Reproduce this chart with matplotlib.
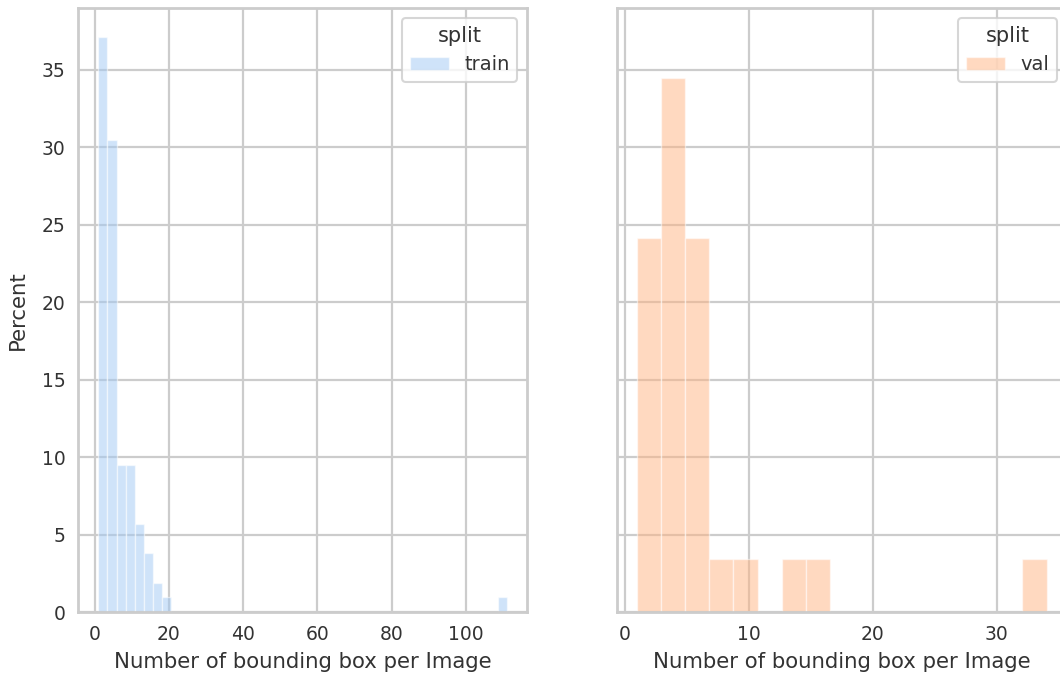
import matplotlib
matplotlib.use("Agg")
import matplotlib.pyplot as plt
import seaborn as sns
import numpy as np

# histogram bins (counts of images per bin)
train_range = (1, 111)
train_counts = [39, 32, 10, 10, 6, 4, 2, 1] + [0] * 36 + [1]
val_range = (1, 34)
val_counts = [7, 10, 7, 1, 1, 0, 1, 1] + [0] * 8 + [1]

splits = ["train", "val"]
split_colors = ["#a1c9f4", "#ffb482"]
xlabel = "Number of bounding box per Image"
train_xticks = [0, 20, 40, 60, 80, 100]
val_xticks = [0, 10, 20, 30]
yticks = [0, 5, 10, 15, 20, 25, 30, 35]

sns.set_theme(style="whitegrid", context="talk")
plt.rcParams["font.family"] = ["DejaVu Sans"]

fig = plt.figure(figsize=(10.6, 6.82), dpi=100)
ax1 = fig.add_axes([0.0736, 0.1026, 0.4236, 0.8856])
ax2 = fig.add_axes([0.5818, 0.1026, 0.4248, 0.8856], sharey=ax1)


def draw_hist(ax, rng, counts, color, label, xticks):
    counts = np.array(counts, dtype=float)
    pct = counts / counts.sum() * 100
    edges = np.linspace(rng[0], rng[1], len(counts) + 1)
    ax.bar(edges[:-1], pct, width=np.diff(edges), align="edge",
           color=color, alpha=0.5, edgecolor="white", linewidth=1.0,
           label=label, zorder=2)
    pad = (rng[1] - rng[0]) * 0.05
    ax.set_xlim(rng[0] - pad, rng[1] + pad)
    ax.set_xticks(xticks)
    ax.set_xlabel(xlabel, fontsize=15.3, color="#333333", labelpad=6)
    ax.tick_params(labelsize=13.5, colors="#333333", length=0, pad=9)
    for s in ax.spines.values():
        s.set_color("#cccccc")
        s.set_linewidth(2)
    ax.grid(True, color="#cccccc", linewidth=1.6)
    leg = ax.legend(title="split", fontsize=14, title_fontsize=15,
                    loc="upper right", borderaxespad=0.5, handlelength=2.0,
                    frameon=True, fancybox=True)
    leg.get_frame().set_edgecolor("#cccccc")
    leg.get_frame().set_linewidth(1.5)
    for t in leg.get_texts():
        t.set_color("#333333")
    leg.get_title().set_color("#333333")


draw_hist(ax1, train_range, train_counts, split_colors[0], splits[0], train_xticks)
draw_hist(ax2, val_range, val_counts, split_colors[1], splits[1], val_xticks)

ax1.set_ylim(0, 39.0)
ax1.set_yticks(yticks)
ax1.set_ylabel("Percent", fontsize=15.3, color="#333333", labelpad=10)
ax2.tick_params(axis="y", labelleft=False)

fig.savefig("out.png", dpi=100)
